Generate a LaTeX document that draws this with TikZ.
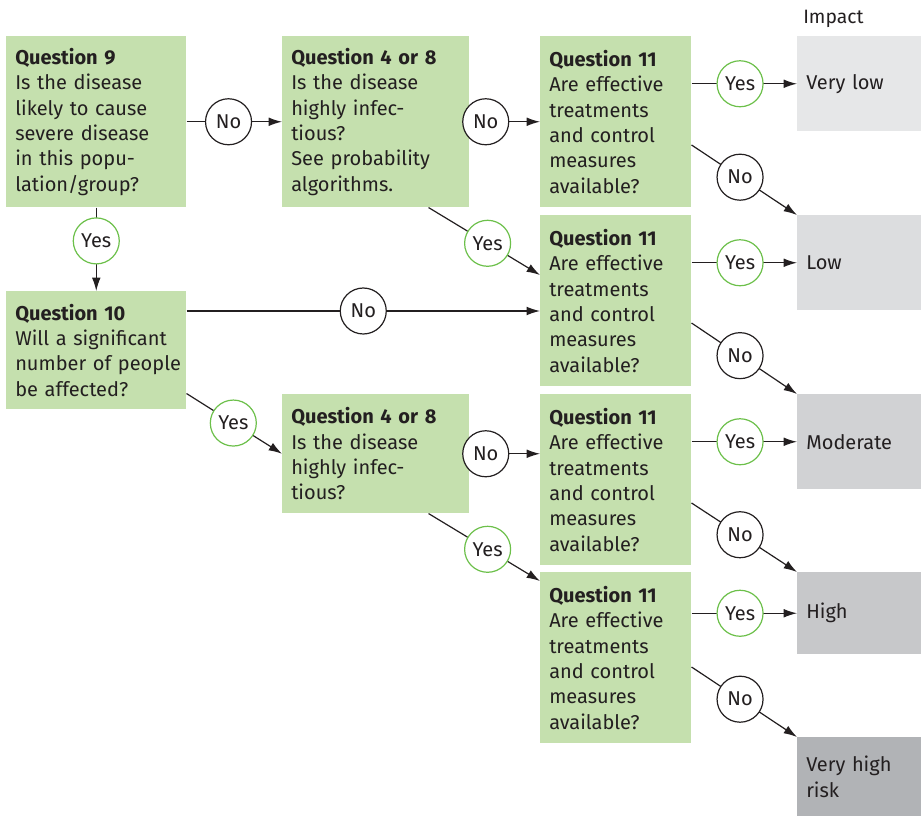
\documentclass[tikz,border=0pt]{standalone}
\usepackage{fontspec}
\setmainfont{Fira Sans}
\usetikzlibrary{arrows.meta,calc}
\definecolor{ink}{HTML}{231F20}
\definecolor{qgreen}{HTML}{C5E0AE}
\definecolor{yesgreen}{HTML}{6CC04A}
\definecolor{greyA}{HTML}{E6E7E8}
\definecolor{greyB}{HTML}{DCDDDF}
\definecolor{greyC}{HTML}{D1D2D4}
\definecolor{greyD}{HTML}{C7C8CA}
\definecolor{greyE}{HTML}{B1B3B6}

\begin{document}
\begin{tikzpicture}[x=0.75pt, y=-0.75pt, font=\fontsize{15}{19.1}\selectfont,
  qbox/.style={rectangle, fill=qgreen, text=ink, anchor=north west, align=left, inner xsep=6.75pt, inner ysep=3pt, minimum height=128.25pt},
  gbox/.style={rectangle, text=ink, anchor=north west, align=left, inner xsep=6.75pt, inner ysep=3pt, text width=79.5pt},
  bub/.style={circle, fill=white, text=ink, line width=0.9pt, minimum size=34.5pt, inner sep=0pt},
  nobub/.style={bub, draw=ink},
  yesbub/.style={bub, draw=yesgreen},
  arr/.style={-{Latex[length=10pt,width=6.5pt]}, draw=ink, line width=0.9pt}]
\useasboundingbox (0,0) rectangle (921,816);

% questions
\node [qbox, text width=121.5pt] (q9) at (6,36) {\textbf{Question 9}\\Is the disease\\likely to cause\\severe disease\\in this popu-\\lation/group?};
\node [qbox, text width=126.75pt] (q48a) at (282,36) {\textbf{Question 4 or 8}\\Is the disease\\highly infec-\\tious?\\See probability\\algorithms.};
\node [qbox, text width=99.75pt] (q11a) at (540,36) {\textbf{Question 11}\\Are effective\\treatments\\and control\\measures\\available?};
\node [qbox, text width=99.75pt] (q11b) at (540,215) {\textbf{Question 11}\\Are effective\\treatments\\and control\\measures\\available?};
\node [qbox, text width=121.5pt, minimum height=88.5pt] (q10) at (6,291) {\textbf{Question 10}\\\mbox{Will a significant}\\\mbox{number of people}\\be affected?};
\node [qbox, text width=126.75pt, minimum height=89.25pt] (q48b) at (282,394) {\textbf{Question 4 or 8}\\Is the disease\\highly infec-\\tious?};
\node [qbox, text width=99.75pt] (q11c) at (540,394) {\textbf{Question 11}\\Are effective\\treatments\\and control\\measures\\available?};
\node [qbox, text width=99.75pt] (q11d) at (540,572) {\textbf{Question 11}\\Are effective\\treatments\\and control\\measures\\available?};

% impact
\node [text=ink, font=\fontsize{14.5}{17}\selectfont, anchor=base west, inner sep=0pt] (impact) at (803,24) {Impact};
\node [gbox, fill=greyA, minimum height=71.25pt] (vlow) at (797,36) {Very low};
\node [gbox, fill=greyB, minimum height=71.25pt] (low) at (797,215) {Low};
\node [gbox, fill=greyC, minimum height=71.25pt] (mod) at (797,394) {Moderate};
\node [gbox, fill=greyD, minimum height=61.5pt] (high) at (797,572) {High};
\node [gbox, fill=greyE, minimum height=59.25pt] (vhigh) at (797,737) {Very high\\risk};

% answers
\coordinate (n10) at ($(q10.north east)+(0,20)$);
\draw [arr] (q9) -- node [nobub, pos=0.44] {No} (q48a);
\draw [arr] (q9) -- node [yesbub, pos=0.4] {Yes} (q10);
\draw [arr] (q48a) -- node [nobub, pos=0.23] {No} (q11a);
\draw [arr] ($(q48a.south east)+(-41,0)$) -- node [yesbub, pos=0.53] {Yes} ($(q11b.north west)+(0,60)$);
\draw [arr] (n10) -- node [nobub, pos=0.5] {No} (n10 -| q11b.west);
\draw [arr] ($(q10.south east)+(0,-16)$) -- node [yesbub, pos=0.49] {Yes} (q48b.west);
\draw [arr] (q48b) -- node [nobub, pos=0.23] {No} (q48b -| q11c.west);
\draw [arr] ($(q48b.south east)+(-41,0)$) -- node [yesbub, pos=0.53] {Yes} ($(q11d.north west)+(0,9)$);

\draw [arr] (q11a.east |- vlow) -- node [yesbub, pos=0.46] {Yes} (vlow);
\draw [arr] ($(q11a.north east)+(0,109)$) -- node [nobub, pos=0.46] {No} (low.north west);
\draw [arr] (q11b.east |- low) -- node [yesbub, pos=0.46] {Yes} (low);
\draw [arr] ($(q11b.north east)+(0,108)$) -- node [nobub, pos=0.46] {No} (mod.north west);
\draw [arr] (q11c.east |- mod) -- node [yesbub, pos=0.46] {Yes} (mod);
\draw [arr] ($(q11c.north east)+(0,109)$) -- node [nobub, pos=0.46] {No} (high.north west);
\draw [arr] (q11d.east |- high) -- node [yesbub, pos=0.46] {Yes} (high);
\draw [arr] ($(q11d.north east)+(0,95)$) -- node [nobub, pos=0.46] {No} (vhigh.north west);
\end{tikzpicture}
\end{document}
